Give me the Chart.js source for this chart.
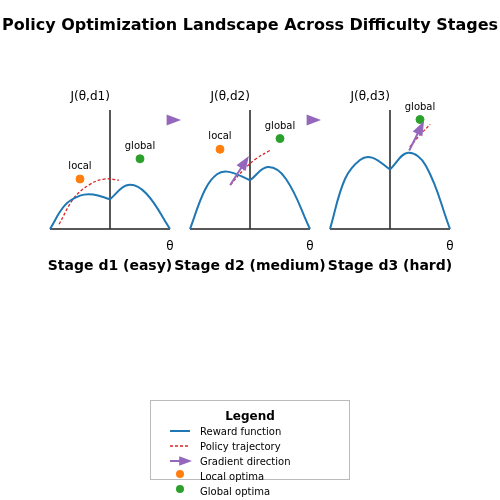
<!DOCTYPE html>
<html><head><meta charset="utf-8">
<script src="https://cdn.jsdelivr.net/npm/chart.js@4"></script>
<style>body{margin:0;background:#fff;width:500px;height:500px;overflow:hidden}canvas{position:absolute;left:0;top:0}</style>
</head><body>
<canvas id="c0" width="500" height="500"></canvas>
<canvas id="c1" width="500" height="500"></canvas>
<canvas id="c2" width="500" height="500"></canvas>
<script>
const mainTitle = "Policy Optimization Landscape Across Difficulty Stages";
const stageTitles = ["Stage d1 (easy)", "Stage d2 (medium)", "Stage d3 (hard)"];
const yLabels = ["J(θ,d1)", "J(θ,d2)", "J(θ,d3)"];
const xLabel = "θ";
const reward1 = [[-1,0],[-0.75,0.2],[-0.5,0.28],[-0.28,0.29],[0,0.25],[0.3,0.37],[0.6,0.3],[1,0]];
const reward2 = [[-1,0],[-0.75,0.33],[-0.55,0.46],[-0.35,0.48],[0,0.41],[0.3,0.52],[0.6,0.42],[1,0]];
const reward3 = [[-1,0],[-0.75,0.42],[-0.5,0.58],[-0.3,0.6],[0,0.5],[0.3,0.64],[0.6,0.53],[1,0]];
const traj1 = [[-0.85,0.04],[-0.6,0.26],[-0.35,0.37],[-0.1,0.42],[0.15,0.41]];
const traj2 = [[-0.33,0.37],[-0.1,0.5],[0.1,0.59],[0.33,0.66]];
const traj3 = [[0.33,0.69],[0.5,0.79],[0.67,0.88]];
const localOpt = [[[-0.5,0.42]],[[-0.5,0.67]],[]];
const globalOpt = [[[0.5,0.59]],[[0.5,0.76]],[[0.5,0.92]]];
const gradArrows = [[],[[-0.33,0.37],[-0.1,0.55]],[[0.32,0.66],[0.5,0.84]]];
const stageArrow = [[1.0,0.916],[1.0,0.916],null];
const legendTitle = "Legend";
const legendItems = ["Reward function","Policy trajectory","Gradient direction","Local optima","Global optima"];
const C = {blue:"#1f77b4", red:"#d62728", purple:"#9467bd", orange:"#ff7f0e", green:"#2ca02c", axis:"#222"};
const rewards=[reward1,reward2,reward3], trajs=[traj1,traj2,traj3];
const panelLeft=[50,190,330];
const pts = a => a.map(p=>({x:p[0],y:p[1]}));

function tri(ctx,x,y,ang,s){ctx.save();ctx.translate(x,y);ctx.rotate(ang);ctx.beginPath();ctx.moveTo(s,0);ctx.lineTo(-s*0.6,-s*0.6);ctx.lineTo(-s*0.6,s*0.6);ctx.closePath();ctx.fill();ctx.restore();}

function makePlugin(i){return{id:'p'+i,
 beforeDatasetsDraw(ch){const ctx=ch.ctx,xs=ch.scales.x,ys=ch.scales.y;ctx.save();ctx.strokeStyle=C.axis;ctx.lineWidth=1.5;
  ctx.beginPath();ctx.moveTo(xs.getPixelForValue(-1),ys.getPixelForValue(0));ctx.lineTo(xs.getPixelForValue(1),ys.getPixelForValue(0));
  ctx.moveTo(xs.getPixelForValue(0),ys.getPixelForValue(0));ctx.lineTo(xs.getPixelForValue(0),ys.getPixelForValue(1));ctx.stroke();ctx.restore();},
 afterDatasetsDraw(ch){const ctx=ch.ctx,xs=ch.scales.x,ys=ch.scales.y;ctx.save();
  ctx.fillStyle="#000";ctx.font="12px 'DejaVu Sans'";ctx.textAlign="center";ctx.textBaseline="alphabetic";
  ctx.fillText(yLabels[i],xs.getPixelForValue(-0.33),ys.getPixelForValue(1)-10);
  ctx.fillText(xLabel,xs.getPixelForValue(1),ys.getPixelForValue(0)+21);
  ctx.font="bold 14px 'DejaVu Sans'";ctx.fillText(stageTitles[i],xs.getPixelForValue(0),ys.getPixelForValue(0)+41);
  ctx.font="10px 'DejaVu Sans'";
  localOpt[i].forEach(p=>ctx.fillText("local",xs.getPixelForValue(p[0]),ys.getPixelForValue(p[1])-10));
  globalOpt[i].forEach(p=>ctx.fillText("global",xs.getPixelForValue(p[0]),ys.getPixelForValue(p[1])-10));
  const g=gradArrows[i];if(g.length){const x1=xs.getPixelForValue(g[0][0]),y1=ys.getPixelForValue(g[0][1]),x2=xs.getPixelForValue(g[1][0]),y2=ys.getPixelForValue(g[1][1]);
   ctx.strokeStyle=C.purple;ctx.fillStyle=C.purple;ctx.lineWidth=2;ctx.beginPath();ctx.moveTo(x1,y1);ctx.lineTo(x2,y2);ctx.stroke();tri(ctx,x2,y2,Math.atan2(y2-y1,x2-x1),9);}
  const s=stageArrow[i];if(s){ctx.fillStyle=C.purple;tri(ctx,xs.getPixelForValue(s[0])+2,ys.getPixelForValue(s[1]),0,9);}
  if(i===0){ctx.strokeStyle="#bbb";ctx.lineWidth=1;ctx.strokeRect(150.5,400.5,199,79);
   ctx.fillStyle="#000";ctx.font="bold 12px 'DejaVu Sans'";ctx.textAlign="center";ctx.fillText(legendTitle,250,420);
   ctx.font="10px 'DejaVu Sans'";ctx.textAlign="left";
   legendItems.forEach((t,k)=>{const y=431+k*15;ctx.fillStyle="#000";ctx.fillText(t,200,y+4);
    if(k===0){ctx.strokeStyle=C.blue;ctx.lineWidth=2;ctx.setLineDash([]);ctx.beginPath();ctx.moveTo(170,y);ctx.lineTo(190,y);ctx.stroke();}
    if(k===1){ctx.strokeStyle=C.red;ctx.lineWidth=1.5;ctx.setLineDash([3,2]);ctx.beginPath();ctx.moveTo(170,y);ctx.lineTo(190,y);ctx.stroke();ctx.setLineDash([]);}
    if(k===2){ctx.strokeStyle=C.purple;ctx.fillStyle=C.purple;ctx.lineWidth=2;ctx.beginPath();ctx.moveTo(170,y);ctx.lineTo(182,y);ctx.stroke();tri(ctx,184,y,0,8);}
    if(k===3){ctx.fillStyle=C.orange;ctx.beginPath();ctx.arc(180,y-2,4,0,7);ctx.fill();}
    if(k===4){ctx.fillStyle=C.green;ctx.beginPath();ctx.arc(180,y-2,4,0,7);ctx.fill();}});
   ctx.fillStyle="#000";ctx.font="bold 16px 'DejaVu Sans'";ctx.textAlign="center";ctx.fillText(mainTitle,250,30);}
  ctx.restore();}};}

for(let i=0;i<3;i++){
 const L=panelLeft[i];
 const line = d => ({data:pts(d),showLine:true,borderColor:C.blue,borderWidth:2,pointRadius:0,tension:0.4});
 new Chart(document.getElementById('c'+i),{type:'scatter',
  data:{datasets:[
   line(rewards[i].filter(p=>p[0]<=0)),
   line(rewards[i].filter(p=>p[0]>=0)),
   {data:pts(trajs[i]),showLine:true,borderColor:C.red,borderWidth:1.3,borderDash:[3,2],pointRadius:0,tension:0.4},
   {data:pts(localOpt[i]),backgroundColor:C.orange,borderColor:C.orange,pointRadius:4},
   {data:pts(globalOpt[i]),backgroundColor:C.green,borderColor:C.green,pointRadius:4}]},
  options:{responsive:false,animation:false,clip:false,events:[],
   layout:{padding:{left:L,right:500-(L+120),top:110,bottom:500-229}},
   plugins:{legend:{display:false},tooltip:{enabled:false}},
   scales:{x:{type:'linear',min:-1,max:1,display:false},y:{min:0,max:1,display:false}}},
  plugins:[makePlugin(i)]});
}
</script></body></html>
